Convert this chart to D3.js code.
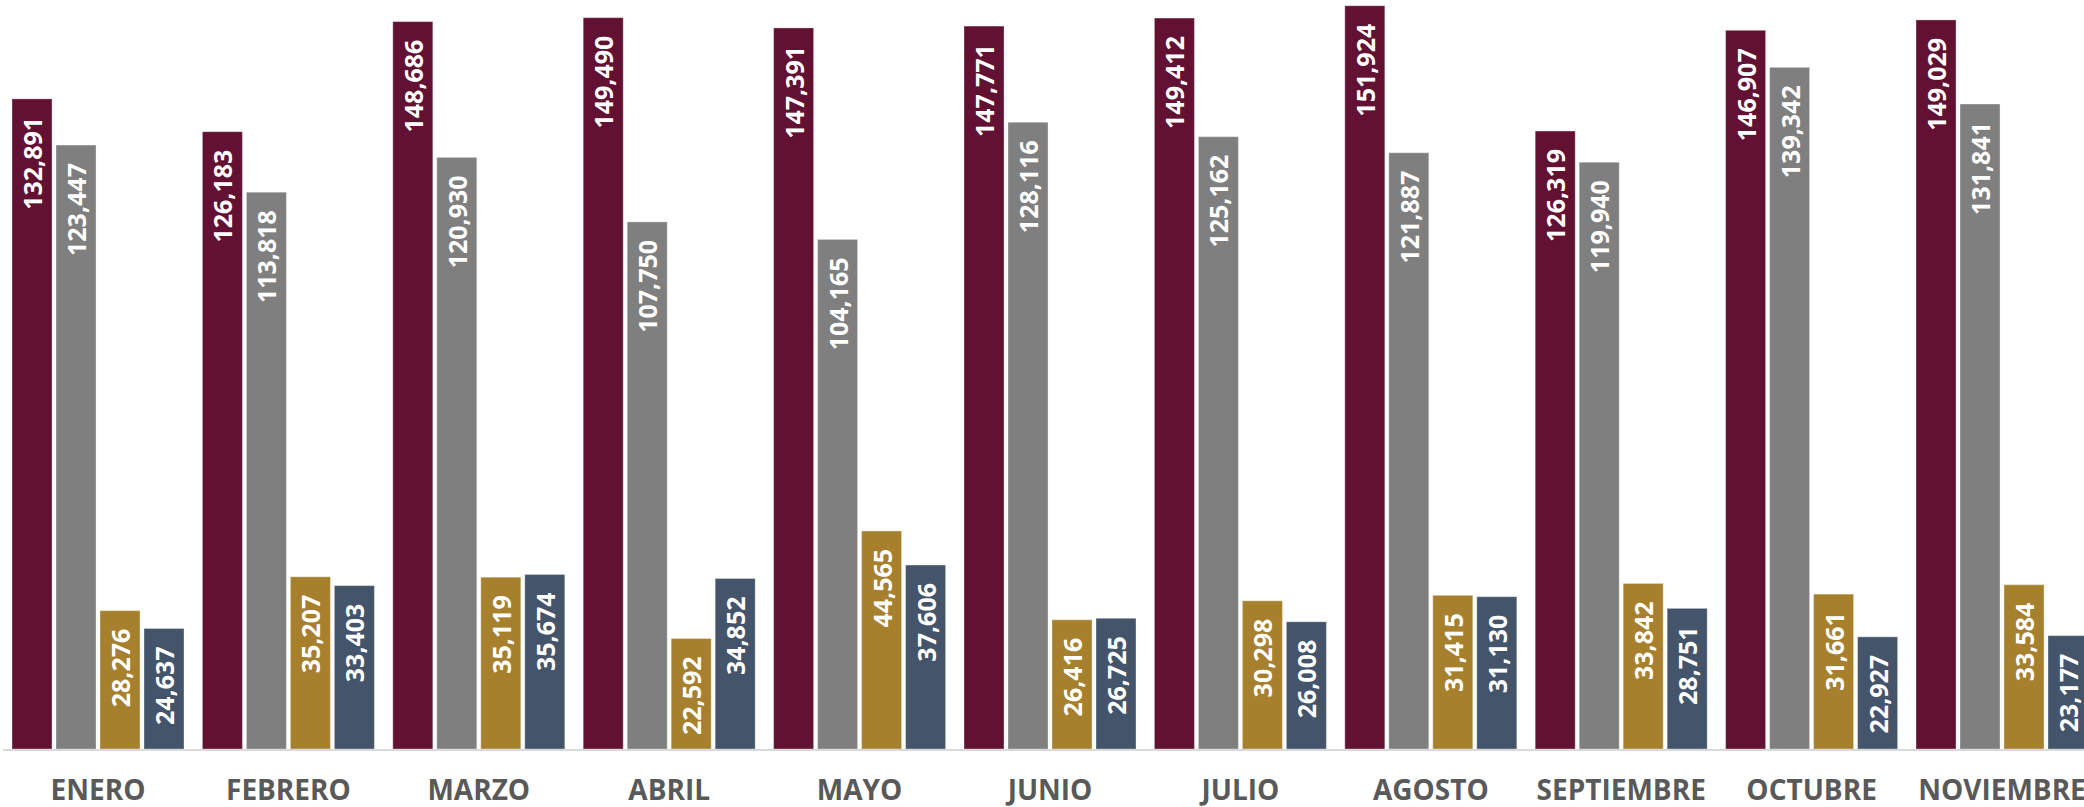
<!DOCTYPE html>
<html><head><meta charset="utf-8">
<script src="https://cdn.jsdelivr.net/npm/d3@7"></script>
<style>html,body{margin:0;padding:0;background:#fff;overflow:hidden}</style>
</head><body><svg id="c" width="2084" height="807"></svg>
<script>
const months = ["ENERO","FEBRERO","MARZO","ABRIL","MAYO","JUNIO","JULIO","AGOSTO","SEPTIEMBRE","OCTUBRE","NOVIEMBRE"];
const seriesNames = ["Serie 1","Serie 2","Serie 3","Serie 4"];
const serie1 = [132891,126183,148686,149490,147391,147771,149412,151924,126319,146907,149029];
const serie2 = [123447,113818,120930,107750,104165,128116,125162,121887,119940,139342,131841];
const serie3 = [28276,35207,35119,22592,44565,26416,30298,31415,33842,31661,33584];
const serie4 = [24637,33403,35674,34852,37606,26725,26008,31130,28751,22927,23177];
const colors = ["#621132","#7f7f7f","#a7802e","#44546a"];
const yMax = 153100;

const allSeries = [serie1, serie2, serie3, serie4];
const data = months.map((m,i)=>({month:m, values: seriesNames.map((s,j)=>({key:s, value: allSeries[j][i]}))}));

const svg = d3.select("#c");
const baseY = 749;
const x0 = d3.scaleBand().domain(months).range([2.8, 2.8 + 190.4*months.length]).paddingInner(0.0966).paddingOuter(0.0483);
const x1 = d3.scaleBand().domain(seriesNames).range([0, x0.bandwidth()]).paddingInner(0.09).paddingOuter(0);
const y = d3.scaleLinear().domain([0, yMax]).range([baseY, 0]);
const color = d3.scaleOrdinal().domain(seriesNames).range(colors);

const g = svg.selectAll("g.grp").data(data).join("g").attr("class","grp")
  .attr("transform", d=>`translate(${x0(d.month)},0)`);

g.selectAll("rect").data(d=>d.values).join("rect")
  .attr("x", d=>x1(d.key)).attr("width", x1.bandwidth())
  .attr("y", d=>y(d.value)).attr("height", d=>baseY - y(d.value))
  .attr("fill", d=>color(d.key))
  .attr("stroke", "rgba(255,255,255,0.35)").attr("stroke-width", 1);

g.selectAll("text.val").data(d=>d.values).join("text").attr("class","val")
  .attr("transform", d=>`translate(${x1(d.key)+x1.bandwidth()/2+1},${y(d.value)+18}) rotate(-90)`)
  .attr("text-anchor","end").attr("dy","0.36em")
  .attr("fill","#fff").attr("font-family","'Open Sans', 'Noto Sans', sans-serif")
  .attr("font-weight","bold").attr("font-size","25px")
  .text(d=>d3.format(",")(d.value));

// axis line
svg.append("line").attr("x1",3).attr("x2",2084).attr("y1",baseY+1).attr("y2",baseY+1)
  .attr("stroke","#d9d9d9").attr("stroke-width",2);

// category axis
const ax = svg.append("g").attr("transform",`translate(0,${baseY})`)
  .call(d3.axisBottom(x0).tickSize(0).tickPadding(0));
ax.select(".domain").remove();
ax.selectAll("text").attr("y", 51).attr("dy", 0)
  .attr("font-family","'Open Sans', 'Noto Sans', sans-serif")
  .attr("font-weight","bold").attr("font-size","28px").attr("fill","#595959");
</script></body></html>
